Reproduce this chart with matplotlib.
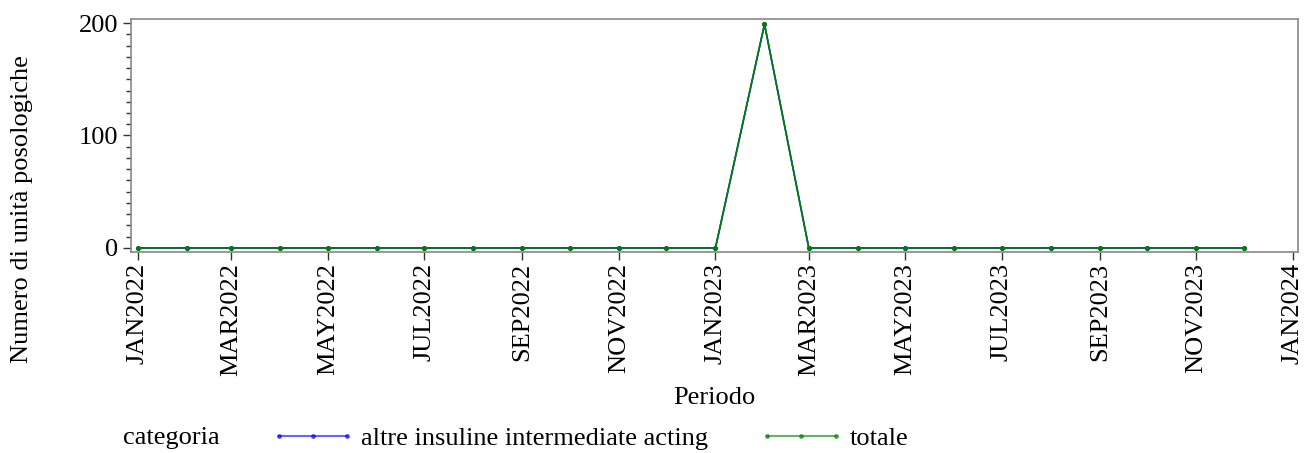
import numpy as np
import pandas as pd
import matplotlib
matplotlib.use("Agg")
import matplotlib.pyplot as plt
import matplotlib.dates as mdates
from matplotlib.ticker import MultipleLocator
from matplotlib.lines import Line2D

plt.rcParams['font.family'] = ['Liberation Serif', 'DejaVu Serif']

# data
months = pd.date_range("2022-01-01", "2023-12-01", freq="MS")
altre = [0, 0, 0, 0, 0, 0, 0, 0, 0, 0, 0, 0,
         0, 199, 0, 0, 0, 0, 0, 0, 0, 0, 0, 0]
totale = [0, 0, 0, 0, 0, 0, 0, 0, 0, 0, 0, 0,
          0, 199, 0, 0, 0, 0, 0, 0, 0, 0, 0, 0]
labels = ["altre insuline intermediate acting", "totale"]

FS = 19
fig = plt.figure(figsize=(13.06, 4.53), dpi=100)
ax = fig.add_axes([131/1306, 1-252/453, (1298-131)/1306, (252-19)/453])

ax.plot(months, altre, color='#0000ff', lw=1.2, marker='o', ms=2.5)
ax.plot(months, totale, color='#008000', lw=1.2, marker='o', ms=2.5)

ax.set_xlim(pd.Timestamp("2022-01-01") - pd.Timedelta(days=4.4),
            pd.Timestamp("2024-01-01") + pd.Timedelta(days=3.2))
ax.set_ylim(-3.6, 203.6)
ax.xaxis.set_major_locator(mdates.MonthLocator(bymonth=[1, 3, 5, 7, 9, 11]))
fig.canvas.draw()
ticks = ax.get_xticks()
ax.set_xticks(ticks)
ax.set_xticklabels([mdates.num2date(t).strftime('%b%Y').upper() for t in ticks],
                   rotation=90, fontsize=FS)
ax.yaxis.set_major_locator(MultipleLocator(100))
ax.yaxis.set_minor_locator(MultipleLocator(10))
ax.tick_params(axis='y', labelsize=FS, pad=3)
ax.tick_params(axis='x', pad=2)
ax.tick_params(which='major', direction='out', length=6, width=1, color='#333333')
ax.tick_params(which='minor', direction='out', length=3.5, width=1, color='#333333')
for s in ax.spines.values():
    s.set_color('#888888')
    s.set_linewidth(1.2)

ax.set_xlabel('Periodo', fontsize=FS, va='center')
ax.xaxis.set_label_coords(0.5, (252-398)/233)
ax.set_ylabel('Numero di unità posologiche', fontsize=FS, va='center')
ax.yaxis.set_label_coords((22-131)/1167, (252-209)/233)

handles = [Line2D([], [], color='#0000ff', lw=1.5, marker='o', ms=2.5, alpha=0.6),
           Line2D([], [], color='#008000', lw=1.5, marker='o', ms=2.5, alpha=0.6)]
fig.text(123/1306, 1-438/453, 'categoria', fontsize=FS, va='center')
fig.legend(handles, labels, loc='center left', bbox_to_anchor=(247/1306, 1-438/453),
           ncol=2, frameon=False, fontsize=FS, handlelength=3.2, columnspacing=1.93,
           handletextpad=0.23, numpoints=3)

fig.savefig('out.png', dpi=100)
